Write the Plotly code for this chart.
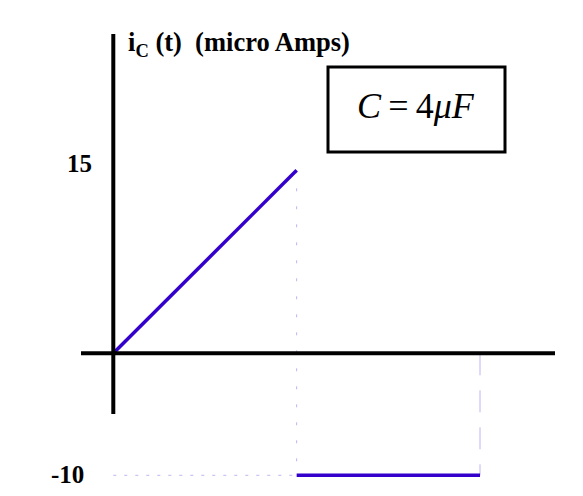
import plotly.graph_objects as go

# data
t_ramp = [0, 1]
i_ramp = [0, 15]
t_flat = [1, 2]
i_flat = [-10, -10]
tick_vals = [15, -10]
tick_labels = ["15", "-10"]

W, H = 583, 496
px_x = 183.35  # px per unit time
px_y = 12.2    # px per micro amp
x0_px, y0_px = 113.3, 353.3

xr = [-x0_px / px_x, (W - x0_px) / px_x]
yr = [-(H - y0_px) / px_y, y0_px / px_y]

LINE = "#3300cc"
GUIDE = "#bdb4f2"

fig = go.Figure()

# guide lines
fig.add_trace(go.Scatter(x=[t_ramp[1], t_ramp[1]], y=[i_ramp[1], i_flat[0]], mode="lines",
                         line=dict(color=GUIDE, width=1, dash="3px,15px"), hoverinfo="skip"))
fig.add_trace(go.Scatter(x=[t_ramp[0], t_flat[0]], y=[i_flat[0], i_flat[0]], mode="lines",
                         line=dict(color=GUIDE, width=1, dash="3px,8px"), hoverinfo="skip"))
fig.add_trace(go.Scatter(x=[t_flat[1], t_flat[1]], y=[0, i_flat[1]], mode="lines",
                         line=dict(color=GUIDE, width=1, dash="22px,15px"), hoverinfo="skip"))

# axes lines
fig.add_shape(type="line", xref="x", yref="paper", x0=0, x1=0,
              y0=(H - 414) / H, y1=(H - 34) / H, line=dict(color="black", width=4))
fig.add_shape(type="line", xref="paper", yref="y", x0=81 / W, x1=555 / W,
              y0=0, y1=0, line=dict(color="black", width=4))

# data
fig.add_trace(go.Scatter(x=t_ramp, y=i_ramp, mode="lines", line=dict(color=LINE, width=3.5)))
fig.add_trace(go.Scatter(x=t_flat, y=i_flat, mode="lines", line=dict(color=LINE, width=3.5)))

# tick labels
for v, lab, xr_px in zip(tick_vals, tick_labels, [94, 86]):
    fig.add_annotation(x=xr_px / W, xref="paper", y=v, yref="y", text="<b>" + lab + "</b>",
                       showarrow=False, xanchor="right", yanchor="middle",
                       yshift=7 if v > 0 else 1,
                       font=dict(family="Liberation Serif", size=25, color="black"))

# title
fig.add_annotation(x=126 / W, xref="paper", y=(H - 44) / H, yref="paper",
                   text="<b>i<sub>C</sub> (t)\u00a0\u00a0(micro Amps)</b>", showarrow=False,
                   xanchor="left", yanchor="middle",
                   font=dict(family="Liberation Serif", size=26.5, color="black"))

# capacitance box
fig.add_shape(type="rect", xref="paper", yref="paper", x0=328 / W, x1=505 / W,
              y0=(H - 152) / H, y1=(H - 67) / H, line=dict(color="black", width=3))
fig.add_annotation(x=416 / W, xref="paper", y=(H - 106) / H, yref="paper",
                   text="<i>C</i>\u2009=\u20094<i>μF</i>", showarrow=False,
                   xanchor="center", yanchor="middle",
                   font=dict(family="Liberation Serif", size=36, color="black"))

fig.update_layout(
    width=W, height=H, margin=dict(l=0, r=0, t=0, b=0),
    plot_bgcolor="white", paper_bgcolor="white", showlegend=False,
    xaxis=dict(range=xr, visible=False, fixedrange=True),
    yaxis=dict(range=yr, visible=False, fixedrange=True),
)

fig.write_html("out.html", config={"displayModeBar": False},
               post_script="document.body.style.margin='0';document.body.style.padding='0';")
